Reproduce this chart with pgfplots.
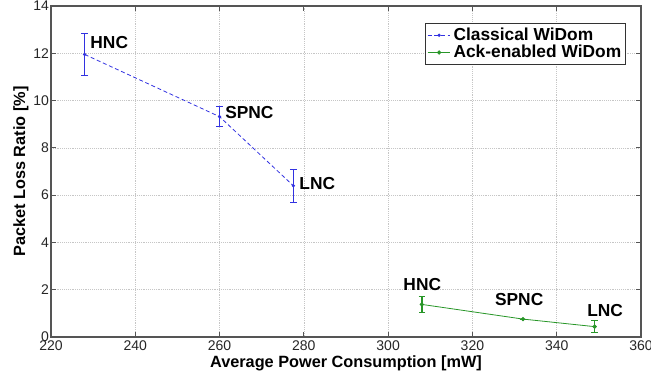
\documentclass[border=0pt]{standalone}
\usepackage{fontspec}
\setmainfont{Liberation Sans}
\usepackage{pgfplots}
\pgfplotsset{compat=1.18}

\definecolor{cwblue}{RGB}{50,50,225}
\definecolor{awgreen}{RGB}{40,150,40}
\definecolor{frame}{RGB}{85,85,85}

\begin{document}
\begin{tikzpicture}[x=1pt,y=1pt]
\begin{axis}[
  name=main,
  scale only axis,
  width=442pt, height=248pt,
  xmin=220, xmax=360, ymin=0, ymax=14,
  xtick={220,240,...,360}, ytick={0,2,...,14},
  tick align=inside,
  major tick length=4pt,
  grid=major,
  major grid style={densely dotted, gray!45},
  axis line style={frame, line width=1.2pt},
  tick style={frame, line width=0.6pt},
  /pgf/number format/assume math mode=true,
  tick label style={font=\fontsize{10.5}{12}\selectfont, text=black!85},
  yticklabel style={xshift=2pt},
  xticklabel style={yshift=1pt},
  xlabel={\textbf{Average Power Consumption [mW]}},
  ylabel={\textbf{Packet Loss Ratio [\%]}},
  every axis x label/.style={at={(axis description cs:0.5,-0.0806)}, anchor=center,
    font=\fontsize{12.2}{14}\selectfont},
  every axis y label/.style={at={(axis description cs:-0.0509,0.5)}, anchor=center, rotate=90,
    font=\fontsize{12.2}{14}\selectfont},
  legend style={at={(0.975,0.949)}, anchor=north east,
    font=\bfseries\fontsize{13}{14}\selectfont,
    draw=black!80, line width=0.6pt, inner sep=1.5pt,
    row sep=-2pt},
  legend cell align=left,
  legend image post style={line width=0.6pt},
  legend image code/.code={
    \draw[mark repeat=2,mark phase=2,#1] plot coordinates {(0cm,0cm) (0.3cm,0cm) (0.6cm,0cm)};},
]
\addplot[color=cwblue, densely dashed, line width=0.6pt, mark=*, mark size=0.9pt,
  mark options={solid},
  error bars/.cd, y dir=both, y explicit, error mark=|,
  error bar style={solid, line width=1pt, color=cwblue},
  error mark options={mark size=2.5pt, line width=0.8pt, color=cwblue, solid}]
  coordinates {
    (228,11.95) +- (0,0.90)
    (260,9.32) +- (0,0.42)
    (277.5,6.40) +- (0,0.70)
  };
\addlegendentry{Classical WiDom}
\addplot[color=awgreen, line width=0.6pt, mark=*, mark size=1.3pt,
  error bars/.cd, y dir=both, y explicit, error mark=|,
  error bar style={line width=1pt, color=awgreen},
  error mark options={mark size=2.5pt, line width=0.8pt, color=awgreen}]
  coordinates {
    (308,1.38) +- (0,0.35)
    (332,0.76) +- (0,0)
    (349,0.44) +- (0,0.26)
  };
\addlegendentry{Ack-enabled WiDom}

\begin{scope}[every node/.style={font=\bfseries\fontsize{13}{14}\selectfont, inner sep=0pt}]
\node[anchor=west] at (axis cs:229.3,12.44) {HNC};
\node[anchor=west] at (axis cs:261.3,9.48) {SPNC};
\node[anchor=west] at (axis cs:278.9,6.51) {LNC};
\node at (axis cs:308.1,2.2) {HNC};
\node at (axis cs:331.1,1.59) {SPNC};
\node at (axis cs:351.5,1.11) {LNC};
\end{scope}
\end{axis}
\pgfresetboundingbox
\path[use as bounding box]
  ([xshift=-38.2pt,yshift=-30.7pt]main.south west)
  rectangle ([xshift=7.5pt,yshift=4.5pt]main.north east);
\end{tikzpicture}
\end{document}
